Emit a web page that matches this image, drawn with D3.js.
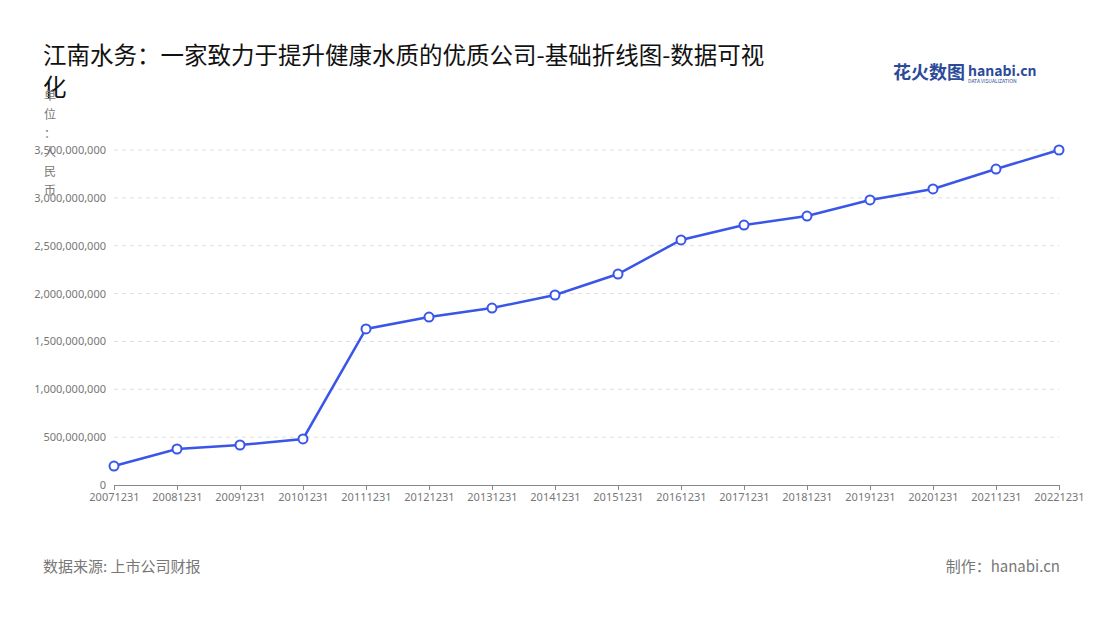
<!DOCTYPE html><html><head><meta charset="utf-8"><script src="https://cdn.jsdelivr.net/npm/d3@7"></script>
<style>body{margin:0;background:#fff;font-family:"Noto Sans CJK SC","Noto Sans",sans-serif}</style></head><body><svg id="c" width="1100" height="620"></svg>
<script>
const categories=["20071231","20081231","20091231","20101231","20111231","20121231","20131231","20141231","20151231","20161231","20171231","20181231","20191231","20201231","20211231","20221231"];
const values=[198e6,376e6,418e6,481e6,1630e6,1755e6,1849e6,1985e6,2204e6,2560e6,2716e6,2810e6,2978e6,3093e6,3301e6,3500e6];
const yTicks=[0,5e8,1e9,1.5e9,2e9,2.5e9,3e9,3.5e9];
const svg=d3.select("#c");
const x=d3.scalePoint().domain(categories).range([114,1059]);
const y=d3.scaleLinear().domain([0,3.5e9]).range([485,150]);
svg.append("text").attr("x",43).attr("y",64).attr("font-size",23.5).attr("fill","#111").text("江南水务：一家致力于提升健康水质的优质公司-基础折线图-数据可视");
svg.append("text").attr("x",43).attr("y",96).attr("font-size",23.5).attr("fill","#111").text("化");
svg.selectAll(".g").data(yTicks.slice(1)).enter().append("line").attr("x1",114).attr("x2",1059).attr("y1",d=>y(d)).attr("y2",d=>y(d)).attr("stroke","#ddd").attr("stroke-dasharray","4,4");
const ya=svg.append("g").attr("transform","translate(114,0)").call(d3.axisLeft(y).tickValues(yTicks).tickFormat(d3.format(",")).tickSize(0).tickPadding(8));
ya.select(".domain").remove();ya.selectAll("text").attr("fill","#777").attr("font-size",11).attr("font-family","Noto Sans");
const xa=svg.append("g").attr("transform","translate(0,485)").call(d3.axisBottom(x).tickSize(5).tickSizeOuter(0));
xa.select(".domain").attr("stroke","#888");xa.selectAll("line").attr("stroke","#888");
xa.selectAll("text").attr("fill","#777").attr("font-size",11).attr("font-family","Noto Sans");
const lab="单位：人民币".split("");
svg.selectAll(".u").data(lab).enter().append("text").attr("x",50).attr("y",(d,i)=>100+i*19).attr("text-anchor","middle").attr("font-size",12).attr("fill","#777").text(d=>d);
svg.append("path").datum(values).attr("fill","none").attr("stroke","#3a56e8").attr("stroke-width",2.5).attr("d",d3.line().x((d,i)=>x(categories[i])).y(d=>y(d)));
svg.selectAll(".p").data(values).enter().append("circle").attr("cx",(d,i)=>x(categories[i])).attr("cy",d=>y(d)).attr("r",4.5).attr("fill","#fff").attr("stroke","#3a56e8").attr("stroke-width",2);
svg.append("text").attr("x",43).attr("y",572).attr("font-size",15).attr("fill","#777").text("数据来源: 上市公司财报");
svg.append("text").attr("x",1060).attr("y",572).attr("text-anchor","end").attr("font-size",15).attr("fill","#777").text("制作：hanabi.cn");
svg.append("text").attr("x",893).attr("y",79).attr("font-size",18).attr("font-weight","bold").attr("fill","#2b4a9a").text("花火数图");
svg.append("text").attr("x",968).attr("y",76).attr("font-size",14).attr("font-weight","bold").attr("fill","#2b4a9a").text("hanabi.cn");
svg.append("text").attr("x",968).attr("y",83).attr("font-size",5).attr("fill","#2b4a9a").text("DATA VISUALIZATION");
</script></body></html>
